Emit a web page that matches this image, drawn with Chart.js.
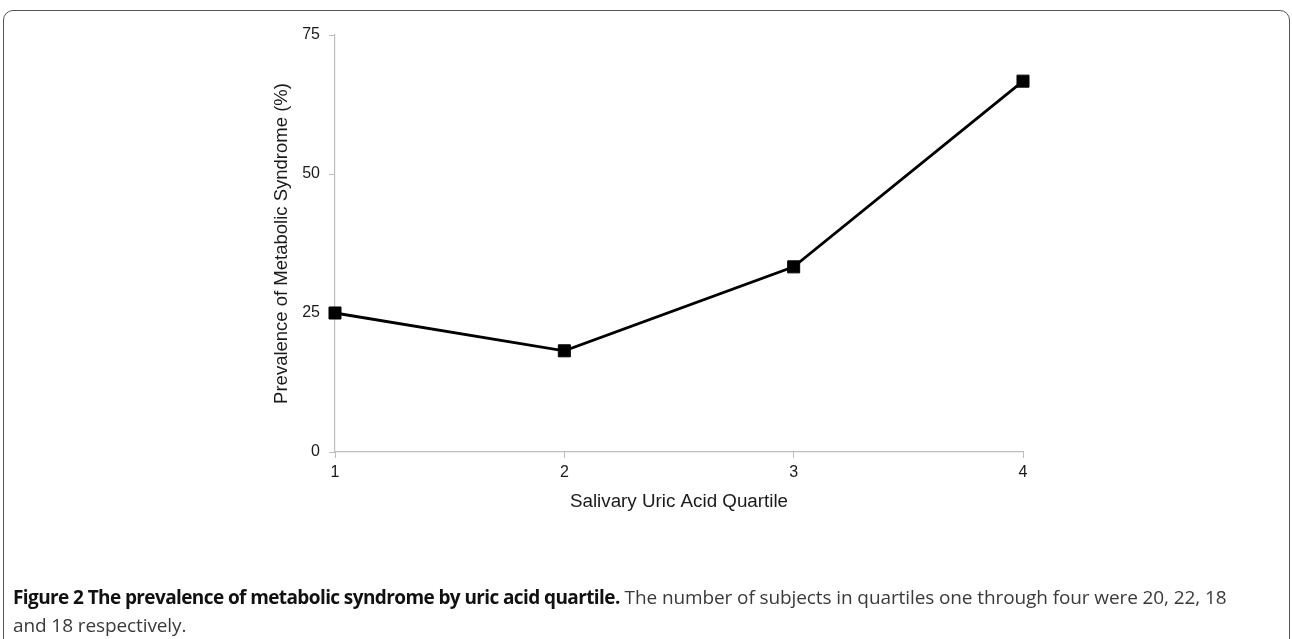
<!DOCTYPE html>
<html>
<head>
<meta charset="utf-8">
<script src="https://cdn.jsdelivr.net/npm/chart.js@4/dist/chart.umd.min.js"></script>
<style>
  html, body { margin: 0; padding: 0; background: #fff; }
  #wrap { position: relative; width: 1292px; height: 639px; overflow: hidden; }
  #frame { position: absolute; left: 3px; top: 10px; width: 1287px; height: 700px; border: 1.5px solid #555; border-radius: 10px; box-sizing: border-box; }
  #c { position: absolute; left: 0; top: 0; }
  #caption { position: absolute; left: 13px; top: 583px; width: 1270px; white-space: nowrap; font-family: "Open Sans", "Noto Sans", sans-serif; font-size: 19px; line-height: 28px; color: #3a3a3a; letter-spacing: -0.1px; }
  #caption b { color: #111; font-weight: 700; letter-spacing: -0.6px; }
</style>
</head>
<body>
<div id="wrap">
  <div id="frame"></div>
  <canvas id="c" width="1292" height="639"></canvas>
  <div id="caption"><b>Figure 2 The prevalence of metabolic syndrome by uric acid quartile.</b> The number of subjects in quartiles one through four were 20, 22, 18<br>and 18 respectively.</div>
</div>
<script>
const categories = ["1", "2", "3", "4"];
const prevalence = [25, 18.2, 33.3, 66.7];
const yTicks = [0, 25, 50, 75];
const xTitle = "Salivary Uric Acid Quartile";
const yTitle = "Prevalence of Metabolic Syndrome (%)";

const fam = "'Liberation Sans', Arial, sans-serif";
const gridCol = "#bdbdbd";

new Chart(document.getElementById("c"), {
  type: "line",
  data: {
    labels: categories,
    datasets: [{
      data: prevalence,
      borderColor: "#000",
      borderWidth: 2.8,
      backgroundColor: "#000",
      pointStyle: "rect",
      pointRadius: 8.5,
      pointBorderWidth: 1,
      pointBorderColor: "#000",
      tension: 0,
      fill: false
    }]
  },
  options: {
    responsive: false,
    animation: false,
    devicePixelRatio: 1,
    layout: { padding: { left: 267, right: 269, top: 35, bottom: 122 } },
    plugins: { legend: { display: false }, tooltip: { enabled: false } },
    scales: {
      x: {
        type: "category",
        offset: false,
        grid: { drawOnChartArea: false, drawTicks: true, tickLength: 6, color: gridCol },
        border: { color: gridCol, width: 1.2 },
        ticks: { font: { family: fam, size: 16 }, color: "#1a1a1a", padding: 5, maxRotation: 0 },
        title: { display: true, text: xTitle, font: { family: fam, size: 18.8 }, color: "#1a1a1a", padding: { top: 4, bottom: 4 } },
        afterFit: (s) => { s.height = 65; }
      },
      y: {
        min: 0, max: 75,
        afterBuildTicks: (s) => { s.ticks = yTicks.map(v => ({ value: v })); },
        grid: { drawOnChartArea: false, drawTicks: true, tickLength: 6, color: gridCol },
        border: { color: gridCol, width: 1.2 },
        ticks: { font: { family: fam, size: 16 }, color: "#1a1a1a", padding: 9 },
        title: { display: true, text: yTitle, font: { family: fam, size: 18.5 }, color: "#1a1a1a", padding: { top: 4, bottom: 4 } },
        afterFit: (s) => { s.width = 68; }
      }
    }
  }
});
</script>
</body>
</html>
